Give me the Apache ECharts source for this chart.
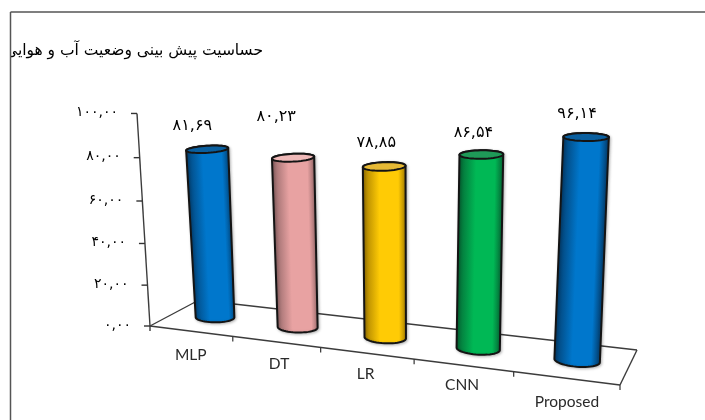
<!DOCTYPE html>
<html lang="fa">
<head>
<meta charset="utf-8">
<style>html,body{margin:0;padding:0;background:#fff}#chart{width:705px;height:420px}</style>
<script src="https://cdn.jsdelivr.net/npm/echarts@6/dist/echarts.min.js"></script>
</head>
<body>
<div id="chart"></div>
<script>
// Chart values
const categories = ['MLP', 'DT', 'LR', 'CNN', 'Proposed'];
const sensitivity = [81.69, 80.23, 78.85, 86.54, 96.14];
const valueTicks = [0, 20, 40, 60, 80, 100];
const chartTitle = 'حساسیت پیش بینی وضعیت آب و هوایی';

// Cylinder colours: edge, centre, cap
const barPalette = [
  ['#03467c', '#0077cc', '#0a5f9f'],
  ['#96696a', '#e8a2a2', '#efb9b8'],
  ['#a87f00', '#ffcb05', '#e6b935'],
  ['#056f38', '#00b855', '#1f9a58'],
  ['#03467c', '#0077cc', '#0a5f9f']
];
// Hand placement of the value labels around each cap
const labelNudge = [[-15, -23], [-17, -41], [-8, -24], [-8, -22], [-9, -23]];
const catLabelAt = [[0, 24], [3, 22], [-1, 21], [-1, 20], [1, 24]];

// Perspective camera: floor corners and the vanishing point of the verticals
const floorQuad = [[150, 326], [620, 385], [637, 350], [199, 300]];
const verticalVanish = [408, 4544];
const axisTop = [137, 114];

const [[x0, y0], [x1, y1], [x2, y2], [x3, y3]] = floorQuad;
const sx = x0 - x1 + x2 - x3, sy = y0 - y1 + y2 - y3;
const dx1 = x1 - x2, dx2 = x3 - x2, dy1 = y1 - y2, dy2 = y3 - y2;
const den = dx1 * dy2 - dx2 * dy1;
const g = (sx * dy2 - dx2 * sy) / den, h = (dx1 * sy - sx * dy1) / den;
const a = x1 - x0 + g * x1, b = x3 - x0 + h * x3;
const d = y1 - y0 + g * y1, e = y3 - y0 + h * y3;
const alpha = (axisTop[0] - x0) / (verticalVanish[0] - axisTop[0]);

// Scene axes span 100px per category and 2px per value unit on a hidden grid
const GRID = { left: 0, top: 0, width: 500, height: 200 };
function scene(api, i, v) {
  const c = api.coord([i, v]);
  return { u: c[0] / GRID.width, s: (GRID.height - c[1]) / GRID.height };
}
function project(u, s, z) {
  const w = g * u + h * z + 1 + alpha * s;
  return [
    (a * u + b * z + x0 + alpha * s * verticalVanish[0]) / w,
    (d * u + e * z + y0 + alpha * s * verticalVanish[1]) / w
  ];
}
const persian = (n) => String(n).replace(/\d/g, (c) => '۰۱۲۳۴۵۶۷۸۹'[+c]);
const fmt = (v) => persian(v.toFixed(2).replace('.', ','));

function hull(points) {
  const p = points.slice().sort((m, n) => m[0] - n[0] || m[1] - n[1]);
  const cross = (o, m, n) => (m[0] - o[0]) * (n[1] - o[1]) - (m[1] - o[1]) * (n[0] - o[0]);
  const build = (list) => {
    const out = [];
    for (const q of list) {
      while (out.length > 1 && cross(out[out.length - 2], out[out.length - 1], q) <= 0) out.pop();
      out.push(q);
    }
    out.pop();
    return out;
  };
  return build(p).concat(build(p.reverse()));
}

const BASE_RX = 0.044, CAP_RX = 0.041, BASE_RZ = 0.17, CAP_RZ = 0.25;
function ring(u, s, rx, rz) {
  const pts = [];
  for (let k = 0; k < 48; k++) {
    const t = (k / 48) * Math.PI * 2;
    pts.push(project(u + rx * Math.cos(t), s, 0.5 + rz * Math.sin(t)));
  }
  return pts;
}

function renderBar(params, api) {
  const i = api.value(0), v = api.value(1);
  const top = scene(api, i, v), base = scene(api, i, 0);
  const lowRing = ring(base.u, 0, BASE_RX, BASE_RZ), topRing = ring(top.u, top.s, CAP_RX, CAP_RZ);
  const pal = barPalette[i];
  const c0 = project(base.u, 0, 0.5), c1 = project(top.u, top.s, 0.5);
  const len = Math.hypot(c1[0] - c0[0], c1[1] - c0[1]);
  const nx = (c0[1] - c1[1]) / len, ny = (c1[0] - c0[0]) / len;
  const span = 21;
  const mid = [(c0[0] + c1[0]) / 2, (c0[1] + c1[1]) / 2];
  const nudge = labelNudge[i];
  return {
    type: 'group',
    children: [
      {
        type: 'polygon',
        shape: { points: hull(lowRing.concat(topRing)) },
        style: {
          fill: {
            type: 'linear', global: true,
            x: mid[0] + nx * span, y: mid[1] + ny * span,
            x2: mid[0] - nx * span, y2: mid[1] - ny * span,
            colorStops: [
              { offset: 0, color: pal[0] },
              { offset: 0.17, color: pal[1] },
              { offset: 0.62, color: pal[1] },
              { offset: 1, color: pal[0] }
            ]
          },
          stroke: '#141414', lineWidth: 2,
          shadowColor: 'rgba(0,0,0,0.25)', shadowBlur: 3, shadowOffsetX: 1, shadowOffsetY: 1
        }
      },
      {
        type: 'polygon',
        shape: { points: topRing },
        style: { fill: pal[2], stroke: '#141414', lineWidth: 2 }
      },
      {
        type: 'text',
        style: {
          text: fmt(v), x: c1[0] + nudge[0], y: c1[1] + nudge[1],
          align: 'center', verticalAlign: 'middle',
          font: '16px "DejaVu Sans"', fill: '#000'
        }
      }
    ]
  };
}

function renderValueTick(params, api) {
  const v = api.value(1);
  const p = project(0, scene(api, 0, v).s, 0);
  return {
    type: 'group',
    children: [
      { type: 'line', shape: { x1: p[0] - 6, y1: p[1], x2: p[0], y2: p[1] }, style: { stroke: '#333', lineWidth: 1.4 } },
      {
        type: 'text',
        style: {
          text: fmt(v), x: p[0] - 19, y: p[1] - 1,
          align: 'right', verticalAlign: 'middle',
          font: '14px "DejaVu Sans"', fill: '#000'
        }
      }
    ]
  };
}

function renderCategoryTick(params, api) {
  const i = api.value(0);
  const u = scene(api, i, 0).u + 0.1;
  const p = project(u, 0, 0);
  const c = project(u - 0.1, 0, 0);
  const at = catLabelAt[i];
  return {
    type: 'group',
    children: [
      { type: 'line', shape: { x1: p[0], y1: p[1], x2: p[0], y2: p[1] + 5 }, style: { stroke: '#333', lineWidth: 1.2 } },
      {
        type: 'text',
        style: {
          text: categories[i], x: c[0] + at[0], y: c[1] + at[1],
          align: 'center', verticalAlign: 'middle',
          font: '15.5px Lato', fill: '#2a2a2a'
        }
      }
    ]
  };
}

// Floor outline and the leaning value axis
function renderFloor() {
  const A = project(0, 0, 0), B = project(1, 0, 0), C = project(1, 0, 1), D = project(0, 0, 1), T = project(0, 1, 0);
  const line = (p, q) => ({
    type: 'line',
    shape: { x1: p[0], y1: p[1], x2: q[0], y2: q[1] },
    style: { stroke: '#3c3c3c', lineWidth: 1.4 }
  });
  return {
    type: 'group',
    children: [
      line(A, B), line(B, C), line(C, D), line(D, A), line(A, T),
      line(A, [A[0], A[1] + 5])
    ]
  };
}

const chart = echarts.init(document.getElementById('chart'));
chart.setOption({
  animation: false,
  backgroundColor: '#fff',
  title: {
    text: chartTitle, left: 258, top: 38, textAlign: 'right', z: 1,
    textStyle: { fontFamily: 'DejaVu Sans', fontSize: 15.5, fontWeight: 'normal', color: '#000' }
  },
  grid: GRID,
  xAxis: { type: 'category', data: categories, show: false },
  yAxis: { type: 'value', min: 0, max: 100, interval: 20, show: false },
  series: [
    { type: 'custom', renderItem: renderFloor, data: [[0, 0]], z: 2, silent: true },
    {
      type: 'custom', renderItem: renderValueTick, z: 2, silent: true,
      data: valueTicks.map((t) => [0, t])
    },
    {
      type: 'custom', renderItem: renderCategoryTick, z: 2, silent: true,
      data: categories.map((_, i) => [i, 0])
    },
    {
      type: 'custom', renderItem: renderBar, z: 3, silent: true,
      data: sensitivity.map((v, i) => [i, v])
    }
  ],
  graphic: [
    { type: 'rect', z: 20, shape: { x: 0, y: 0, width: 10, height: 420 }, style: { fill: '#fff' } },
    { type: 'rect', z: 20, shape: { x: 0, y: 0, width: 705, height: 11 }, style: { fill: '#fff' } },
    { type: 'line', z: 21, shape: { x1: 10.5, y1: 12, x2: 705, y2: 12 }, style: { stroke: '#555', lineWidth: 1.5 } },
    { type: 'line', z: 21, shape: { x1: 10.5, y1: 12, x2: 10.5, y2: 420 }, style: { stroke: '#555', lineWidth: 1.5 } }
  ]
});
</script>
</body>
</html>
